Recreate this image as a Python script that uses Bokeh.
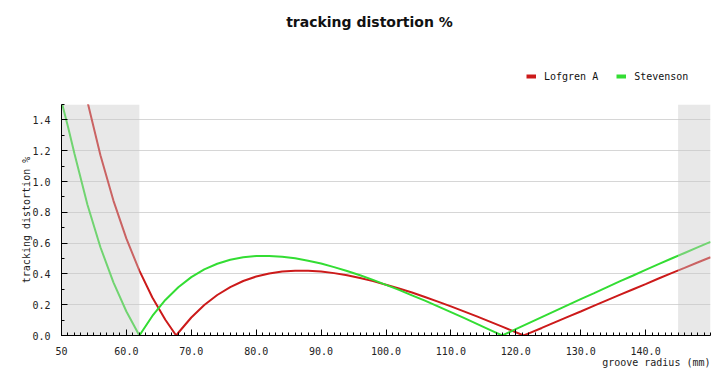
from bokeh.plotting import figure
from bokeh.models import FixedTicker, Legend, LegendItem, Label, Range1d, Title
from bokeh.layouts import column
from bokeh.embed import file_html
from bokeh.resources import INLINE

# ---- data ----
radius_lofgren = [50, 52, 54, 56, 58, 60, 62, 64, 66, 67.67, 68, 70, 72, 74, 76, 78, 80, 82, 84, 86,
                  88, 90, 92, 94, 96, 98, 100, 102, 104, 106, 108, 110, 112, 114, 116, 118, 120, 121.2,
                  122, 124, 126, 128, 130, 132, 134, 136, 138, 140, 142, 144, 146, 148, 150]
distortion_lofgren = [2.426, 1.933, 1.518, 1.170, 0.876, 0.629, 0.421, 0.247, 0.102, 0.0, 0.018, 0.117,
                      0.198, 0.263, 0.314, 0.354, 0.383, 0.403, 0.415, 0.421, 0.420, 0.415, 0.405, 0.391,
                      0.373, 0.353, 0.330, 0.305, 0.279, 0.250, 0.220, 0.189, 0.157, 0.124, 0.090, 0.056,
                      0.021, 0.0, 0.014, 0.049, 0.085, 0.121, 0.156, 0.192, 0.228, 0.264, 0.299, 0.334,
                      0.370, 0.405, 0.439, 0.474, 0.508]

radius_stevenson = [50, 51, 52, 54, 56, 58, 60, 62, 64, 66, 68, 70, 72, 74, 76, 78, 80, 82, 84, 86, 88,
                    90, 92, 94, 96, 98, 100, 102, 104, 106, 108, 110, 112, 114, 116, 117.9, 118, 120,
                    122, 124, 126, 128, 130, 132, 134, 136, 138, 140, 142, 144, 146, 148, 150]
distortion_stevenson = [1.520, 1.355, 1.180, 0.849, 0.573, 0.345, 0.156, 0.0, 0.127, 0.231, 0.313, 0.379,
                        0.429, 0.466, 0.492, 0.508, 0.516, 0.517, 0.512, 0.501, 0.486, 0.467, 0.444,
                        0.419, 0.391, 0.361, 0.329, 0.296, 0.261, 0.226, 0.189, 0.152, 0.114, 0.076,
                        0.037, 0.0, 0.002, 0.041, 0.080, 0.119, 0.158, 0.197, 0.236, 0.274, 0.313,
                        0.351, 0.388, 0.426, 0.463, 0.500, 0.536, 0.572, 0.608]

series_names = ["Lofgren A", "Stevenson"]
series_colors = ["#cc1a1a", "#33dd33"]

# groove-radius zones outside the recorded area (shaded)
shade_left = [50, 145]
shade_right = [62, 150]

x_ticks = [50, 60, 70, 80, 90, 100, 110, 120, 130, 140]
x_tick_labels = ["50", "60.0", "70.0", "80.0", "90.0", "100.0", "110.0", "120.0", "130.0", "140.0"]
x_minor_ticks = list(range(50, 151))
y_ticks = [0.0, 0.2, 0.4, 0.6, 0.8, 1.0, 1.2, 1.4]
y_tick_labels = ["0.0", "0.2", "0.4", "0.6", "0.8", "1.0", "1.2", "1.4"]
y_minor_ticks = [0.0, 0.1, 0.2, 0.3, 0.4, 0.5, 0.6, 0.7, 0.8, 0.9, 1.0, 1.1, 1.2, 1.3, 1.4, 1.5]

chart_title = "tracking distortion %"
x_label = "groove radius (mm)"
y_label = "tracking distortion %"

MONO = "DejaVu Sans Mono"
W = 718

# ---------- header: title + legend ----------
head = figure(width=W, height=104, output_backend="svg", toolbar_location=None,
              x_range=Range1d(0, 1), y_range=Range1d(0, 1), title_location=None,
              x_axis_type=None, y_axis_type=None,
              min_border_left=0, min_border_right=0, min_border_top=0, min_border_bottom=0)
head.outline_line_color = None
head.grid.visible = False

# (head frame is aligned with the chart frame, which starts 61px from the left)
head.add_layout(Label(x=308, y=83, x_units="screen", y_units="screen", text=chart_title,
                      text_align="center", text_baseline="middle", text_font="DejaVu Sans",
                      text_font_style="bold", text_font_size="14px", text_color="#111111"))

# legend-only renderers: same series, lying outside this header's ranges
leg_r = head.line(radius_lofgren, distortion_lofgren, line_color=series_colors[0], line_width=4)
leg_g = head.line(radius_stevenson, distortion_stevenson, line_color=series_colors[1], line_width=4)
legend = Legend(items=[LegendItem(label=series_names[0], renderers=[leg_r]),
                       LegendItem(label=series_names[1], renderers=[leg_g])],
                orientation="horizontal", location=(465, 22),
                border_line_color=None, background_fill_alpha=0,
                glyph_width=10, glyph_height=12, label_standoff=8, spacing=18,
                padding=0, margin=0, label_text_font=MONO, label_text_font_size="10px",
                label_text_color="#111111")
head.add_layout(legend)

# ---------- main chart ----------
p = figure(width=W, height=272, output_backend="svg", toolbar_location=None,
           x_range=Range1d(50, 150), y_range=Range1d(0, 1.5), title_location=None,
           min_border_left=61, min_border_right=8, min_border_top=0, min_border_bottom=41)
p.outline_line_color = None
p.background_fill_color = "white"

p.line(radius_lofgren, distortion_lofgren, line_color=series_colors[0], line_width=2)
p.line(radius_stevenson, distortion_stevenson, line_color=series_colors[1], line_width=2)

# shaded zones drawn over the curves
p.quad(left=shade_left, right=shade_right, bottom=0, top=1.5,
       fill_color="#c8c8c8", fill_alpha=0.42, line_color=None)

xt = FixedTicker(ticks=x_ticks, minor_ticks=x_minor_ticks)
yt = FixedTicker(ticks=y_ticks, minor_ticks=y_minor_ticks)
p.xaxis.ticker = xt
p.yaxis.ticker = yt
p.xaxis.major_label_overrides = dict(zip(x_ticks, x_tick_labels))
p.yaxis.major_label_overrides = dict(zip(y_ticks, y_tick_labels))
p.xgrid.visible = False
p.ygrid.ticker = yt
p.ygrid.grid_line_color = "#d6d6d6"

for ax in (p.xaxis, p.yaxis):
    ax.axis_line_color = "#000000"
    ax.major_tick_line_color = "#000000"
    ax.minor_tick_line_color = "#000000"
    ax.major_tick_in = 6
    ax.major_tick_out = 0
    ax.minor_tick_in = 3
    ax.minor_tick_out = 0
    ax.major_label_text_font = MONO
    ax.major_label_text_font_size = "10px"
    ax.major_label_text_color = "#222222"

p.xaxis.major_label_standoff = 11
p.yaxis.major_label_standoff = 11

p.yaxis.axis_label = y_label
p.yaxis.axis_label_text_font = MONO
p.yaxis.axis_label_text_font_style = "normal"
p.yaxis.axis_label_text_font_size = "10px"
p.yaxis.axis_label_text_color = "#222222"
p.yaxis.axis_label_standoff = -3

p.add_layout(Title(text=x_label, align="right", text_font=MONO, text_font_style="normal",
                   text_font_size="10px", text_color="#222222", standoff=-5), "below")

layout = column(head, p, spacing=0)
open("out.html", "w").write(file_html(layout, INLINE))
